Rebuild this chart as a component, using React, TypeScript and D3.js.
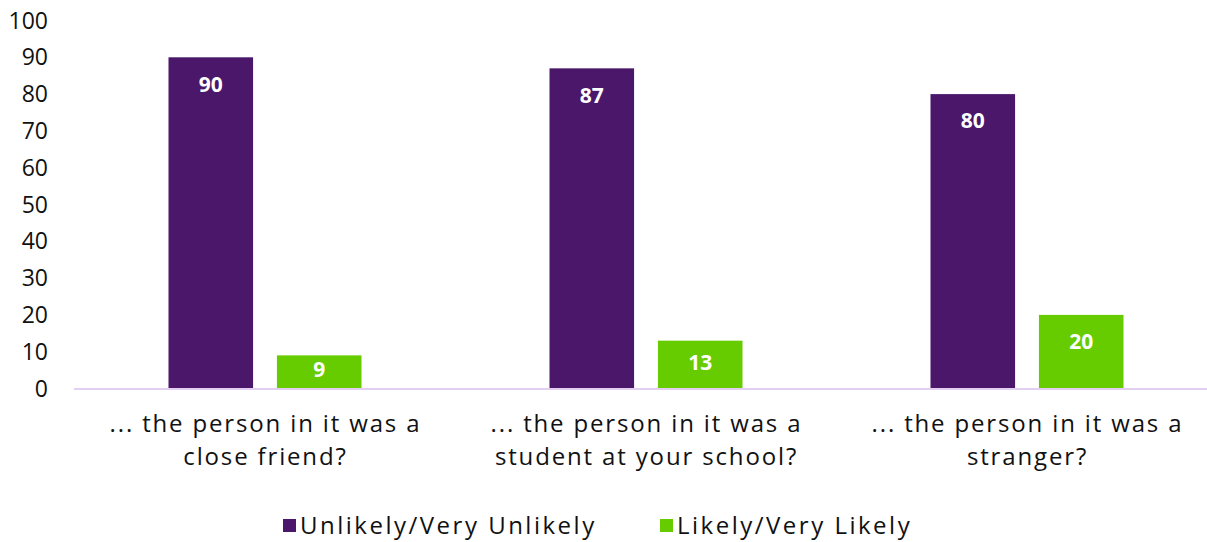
import React from "react";
import * as d3 from "d3";

const categories = [
  ["... the person in it was a", "close friend?"],
  ["... the person in it was a", "student at your school?"],
  ["... the person in it was a", "stranger?"],
];
const seriesNames = ["Unlikely/Very Unlikely", "Likely/Very Likely"];
const unlikely = [90, 87, 80];
const likely = [9, 13, 20];
const yTicks = [0, 10, 20, 30, 40, 50, 60, 70, 80, 90, 100];
const colors = ["#4A176A", "#66CC00"];

const W = 1207;
const H = 542;

export default function App() {
  const x = d3.scaleBand<number>().domain([0, 1, 2]).range([74, 1217]).padding(0);
  const inner = d3
    .scaleBand<number>()
    .domain([0, 1])
    .range([94.5, 287.5])
    .paddingInner(0.22)
    .paddingOuter(0);
  const y = d3.scaleLinear().domain([0, 100]).range([388.5, 20.5]);
  const series = [unlikely, likely];
  const font = "'Open Sans', Lato, sans-serif";

  return (
    <svg
      width={W}
      height={H}
      style={{ position: "absolute", left: 0, top: 0, background: "#fff" }}
    >
      {yTicks.map((t) => (
        <text
          key={t}
          x={48}
          y={y(t)}
          dy="0.35em"
          textAnchor="end"
          fontFamily={font}
          fontSize={23}
          fill="#111"
        >
          {t}
        </text>
      ))}
      {series.map((vals, si) =>
        vals.map((v, ci) => {
          const bx = (x(ci) as number) + (inner(si) as number);
          const bw = inner.bandwidth();
          const ly = Math.min(y(v) + 27, (y(v) + y(0)) / 2 - 2);
          return (
            <g key={`${si}-${ci}`}>
              <rect x={bx} y={y(v)} width={bw} height={y(0) - y(v)} fill={colors[si]} />
              <text
                x={bx + bw / 2}
                y={ly}
                dy="0.35em"
                textAnchor="middle"
                fontFamily={font}
                fontWeight={700}
                fontSize={21}
                fill="#fff"
              >
                {v}
              </text>
            </g>
          );
        })
      )}
      <line x1={74} x2={W} y1={389} y2={389} stroke="#E3CFF2" strokeWidth={2} />
      {categories.map((lines, ci) => {
        const cx = (x(ci) as number) + x.bandwidth() / 2 + 1;
        return (
          <text
            key={ci}
            textAnchor="middle"
            fontFamily={font}
            fontSize={24}
            letterSpacing={1.85}
            fill="#111"
          >
            {lines.map((l, li) => (
              <tspan key={li} x={cx} y={432 + li * 33}>
                {l}
              </tspan>
            ))}
          </text>
        );
      })}
      {seriesNames.map((n, si) => {
        const lx = si === 0 ? 283 : 660;
        return (
          <g key={n}>
            <rect x={lx} y={519} width={13} height={13} fill={colors[si]} />
            <text
              x={lx + 17}
              y={534}
              fontFamily={font}
              fontSize={24}
              letterSpacing={2.5}
              fill="#111"
            >
              {n}
            </text>
          </g>
        );
      })}
    </svg>
  );
}
